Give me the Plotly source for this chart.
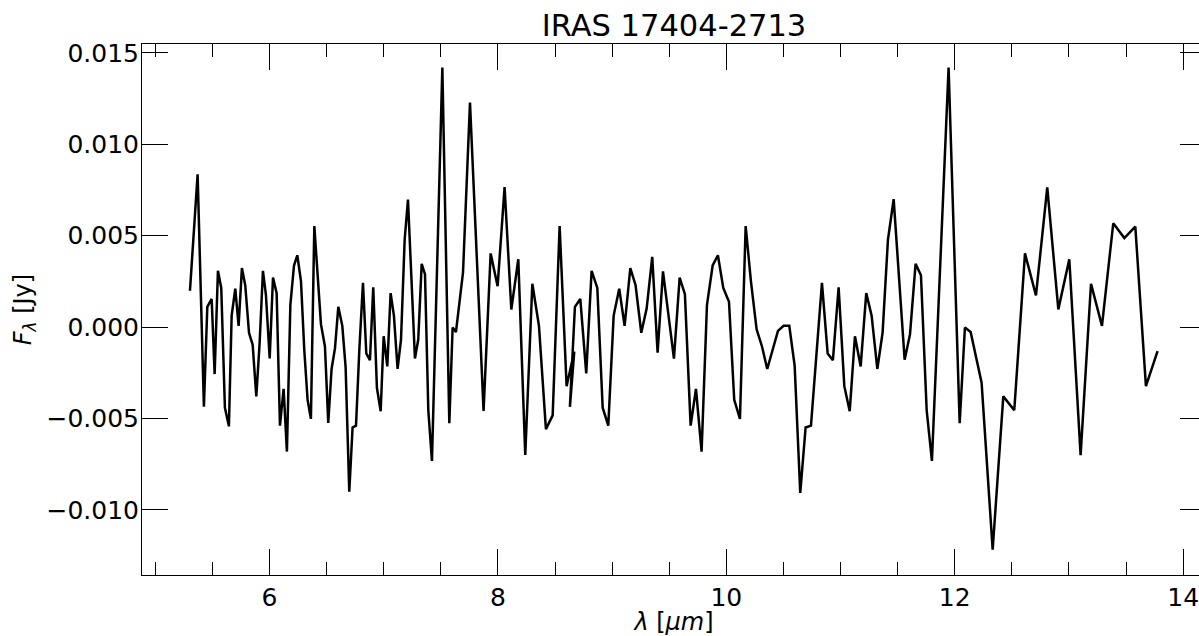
import plotly.graph_objects as go

# Wavelength (micron) and flux density (Jy)
lam = [5.303, 5.370, 5.425, 5.455, 5.493, 5.519, 5.548, 5.577, 5.609, 5.644,
       5.668, 5.700, 5.729, 5.758, 5.787, 5.820, 5.852, 5.884, 5.913, 5.942,
       5.968, 6.001, 6.030, 6.062, 6.091, 6.123, 6.152, 6.182, 6.214, 6.243,
       6.275,
       6.304, 6.333, 6.362, 6.392, 6.421, 6.450, 6.485, 6.514, 6.543, 6.573,
       6.602, 6.637, 6.666, 6.698, 6.727, 6.757, 6.786, 6.818, 6.847, 6.879,
       6.908, 6.940, 6.973, 6.999, 7.031, 7.060, 7.089, 7.121, 7.151, 7.183,
       7.212, 7.241, 7.273, 7.302,
       7.332, 7.361, 7.390, 7.422, 7.513, 7.574, 7.603, 7.632, 7.694, 7.755,
       7.874, 7.936, 7.997, 8.058, 8.117, 8.178, 8.239, 8.301,
       8.359, 8.420, 8.479, 8.540, 8.601, 8.668, 8.630, 8.674, 8.721, 8.773,
       8.820, 8.870, 8.917, 8.966, 9.013, 9.062, 9.109, 9.159, 9.205, 9.255,
       9.302, 9.351, 9.398, 9.445, 9.494, 9.541, 9.591, 9.637, 9.687, 9.734,
       9.783, 9.830, 9.880, 9.926, 9.973, 10.023, 10.069, 10.119, 10.169, 10.215,
       10.265, 10.312,
       10.358, 10.452, 10.501, 10.551, 10.598, 10.647, 10.694, 10.741, 10.837, 10.887,
       10.933, 10.983, 11.033, 11.080, 11.126, 11.176, 11.225, 11.272, 11.322,
       11.368, 11.415, 11.465, 11.561, 11.608, 11.657, 11.704, 11.754, 11.800, 11.946,
       12.043, 12.089, 12.139, 12.235, 12.332,
       12.425, 12.521, 12.615, 12.711, 12.810, 12.907, 13.003, 13.102, 13.193, 13.289,
       13.388, 13.485, 13.581, 13.674, 13.776]

flux = [0.00199, 0.00836, -0.00436, 0.00111, 0.00154, -0.00257, 0.00308, 0.00214, -0.00441, -0.00543,
        0.00063, 0.00210, 0.00007, 0.00323, 0.00229, -0.00031, -0.00097, -0.00379, -0.00087, 0.00308,
        0.00177, -0.00172, 0.00271, 0.00186, -0.00539, -0.00338, -0.00681, 0.00120, 0.00337, 0.00393,
        0.00252,
        -0.00125, -0.00398, -0.00502, 0.00553, 0.00252, 0.00016, -0.00106, -0.00524, -0.00229, -0.00115,
        0.00111, 0.00007, -0.00219, -0.00901, -0.00549, -0.00539, -0.00125, 0.00242, -0.00144, -0.00181,
        0.00218, -0.00332, -0.00460, -0.00050, -0.00215, 0.00186, 0.00063, -0.00229, -0.00068, 0.00478,
        0.00698, 0.00252, -0.00172, -0.00068,
        0.00346, 0.00290, -0.00455, -0.00732, 0.01420, -0.00526, -0.00002, -0.00027, 0.00299, 0.01228,
        -0.00458, 0.00403, 0.00224, 0.00766, 0.00096, 0.00371, -0.00700, 0.00237,
        0.00007, -0.00558, -0.00483, 0.00553, -0.00323, -0.00134, -0.00436, 0.00111, 0.00154, -0.00253,
        0.00308, 0.00214, -0.00441, -0.00539, 0.00063, 0.00210, 0.00007, 0.00323, 0.00229, -0.00031,
        0.00101, 0.00384, -0.00140, 0.00305, 0.00063, -0.00172, 0.00271, 0.00180, -0.00539, -0.00338,
        -0.00681, 0.00120, 0.00337, 0.00393, 0.00214, 0.00139, -0.00398, -0.00502, 0.00553, 0.00252,
        -0.00012, -0.00106,
        -0.00229, -0.00021, 0.00007, 0.00007, -0.00210, -0.00907, -0.00549, -0.00539, 0.00242, -0.00144,
        -0.00181, 0.00218, -0.00323, -0.00460, -0.00050, -0.00215, 0.00186, 0.00063, -0.00229,
        -0.00031, 0.00478, 0.00700, -0.00178, -0.00040, 0.00346, 0.00284, -0.00455, -0.00732, 0.01420,
        -0.00526, -0.00002, -0.00027, -0.00304, -0.01218,
        -0.00379, -0.00455, 0.00403, 0.00173, 0.00764, 0.00097, 0.00371, -0.00700, 0.00237, 0.00007,
        0.00568, 0.00487, 0.00550, -0.00323, -0.00131]

title_text = "IRAS 17404-2713"
x_label = "<i>λ</i> [<i>μm</i>]"
y_label = "<i>F</i><sub><i>λ</i></sub> [Jy]"

x_range = [4.883, 14.2]
y_range = [-0.013561, 0.015487]

assert len(lam) == len(flux)

fig = go.Figure(go.Scatter(x=lam, y=flux, mode="lines",
                           line=dict(color="black", width=2.5),
                           hoverinfo="skip"))

axis_common = dict(
    showline=True, linecolor="black", linewidth=1, mirror="ticks",
    ticks="inside", ticklen=26, tickwidth=1, tickcolor="black",
    showgrid=False, zeroline=False,
    tickfont=dict(family="DejaVu Sans", size=25, color="black"),
)

# The original axes box runs a few pixels past the right edge of the window,
# so the figure is slightly wider than the viewport and page overflow is hidden.
fig.update_layout(
    width=1206, height=636,
    margin=dict(l=142, r=0, t=44, b=61),
    paper_bgcolor="white", plot_bgcolor="white",
    font=dict(family="DejaVu Sans", size=24, color="black"),
    showlegend=False,
    title=dict(text=title_text, x=0.5, xref="paper", xanchor="center",
               y=1 - 25 / 636, yref="container", yanchor="middle",
               font=dict(family="DejaVu Sans", size=30.5, color="black")),
)

fig.update_xaxes(range=x_range, tick0=0, dtick=2,
                 minor=dict(tick0=0, dtick=0.5, ticks="inside", ticklen=13,
                            tickwidth=1, tickcolor="black", showgrid=False),
                 title=dict(text=x_label, standoff=4,
                            font=dict(family="DejaVu Sans", size=24, color="black")),
                 **axis_common)
fig.update_yaxes(range=y_range, tick0=0, dtick=0.005, tickformat=".3f",
                 ticklabelstandoff=-3,
                 title=dict(text=y_label, standoff=8,
                            font=dict(family="DejaVu Sans", size=24, color="black")),
                 **axis_common)

fig.write_html("out.html",
               post_script="document.documentElement.style.overflow='hidden';"
                           "document.body.style.overflow='hidden';")
